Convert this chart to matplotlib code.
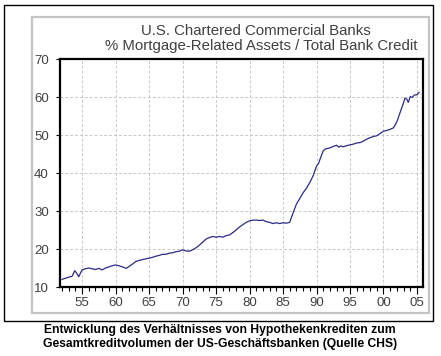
import matplotlib
matplotlib.use('Agg')
import matplotlib.pyplot as plt
from matplotlib.patches import Rectangle
from matplotlib.ticker import MultipleLocator, FixedLocator

# values (year, percent)
years = [1952.0, 1952.5, 1953.0, 1953.5, 1953.9, 1954.2, 1954.5, 1954.8, 1955.0, 1955.5,
         1956.0, 1956.5, 1957.0, 1957.5, 1958.0, 1958.5, 1959.0, 1959.5, 1960.0, 1960.5,
         1961.0, 1961.6, 1962.0, 1962.5, 1963.0, 1963.5, 1964.0, 1964.5, 1965.0, 1965.5,
         1966.0, 1966.5, 1967.0, 1967.5, 1968.0, 1968.5, 1969.0, 1969.5, 1970.0, 1970.5,
         1971.0, 1971.5, 1972.0, 1972.5, 1973.0, 1973.5, 1974.0, 1974.5, 1975.0, 1975.5,
         1976.0, 1976.5, 1977.0, 1977.5, 1978.0, 1978.5, 1979.0, 1979.5, 1980.0, 1980.5,
         1981.0, 1981.5, 1982.0, 1982.5, 1983.0, 1983.5, 1984.0, 1984.5, 1985.0, 1985.5,
         1986.0, 1986.5, 1987.0, 1987.5, 1988.0, 1988.5, 1989.0, 1989.5, 1990.0, 1990.3,
         1990.6, 1991.0, 1991.3, 1991.7, 1992.0, 1992.5, 1993.0, 1993.3, 1993.6, 1994.0,
         1994.5, 1995.0, 1995.5, 1996.0, 1996.5, 1997.0, 1997.5, 1998.0, 1998.5, 1999.0,
         1999.5, 2000.0, 2000.5, 2001.0, 2001.5, 2002.0, 2002.5, 2003.0, 2003.2, 2003.5,
         2003.7, 2004.0, 2004.3, 2004.6, 2005.0, 2005.3]
share = [12.0, 12.3, 12.6, 12.8, 14.3, 13.6, 12.7, 13.8, 14.5, 14.8,
         15.0, 14.8, 14.6, 14.9, 14.5, 15.0, 15.3, 15.6, 15.8, 15.6,
         15.3, 14.9, 15.4, 16.0, 16.7, 17.0, 17.2, 17.4, 17.6, 17.8,
         18.1, 18.3, 18.6, 18.6, 18.9, 19.0, 19.3, 19.4, 19.8, 19.5,
         19.4, 19.8, 20.3, 21.0, 21.8, 22.6, 23.0, 23.3, 23.1, 23.3,
         23.1, 23.5, 23.7, 24.3, 25.0, 25.8, 26.4, 27.0, 27.4, 27.6,
         27.6, 27.5, 27.6, 27.2, 27.0, 26.7, 26.9, 26.7, 26.9, 26.8,
         27.0, 29.5, 31.8, 33.3, 34.8, 36.0, 37.5, 39.3, 41.8, 42.5,
         44.0, 45.8, 46.3, 46.5, 46.6, 47.0, 47.3, 46.8, 47.1, 46.9,
         47.2, 47.4, 47.6, 47.9, 48.0, 48.4, 48.9, 49.3, 49.6, 49.8,
         50.4, 51.0, 51.2, 51.5, 51.9, 53.5, 56.0, 58.5, 59.7, 59.4,
         58.6, 60.1, 59.9, 60.5, 60.6, 61.2]

xtick_years = [1955, 1960, 1965, 1970, 1975, 1980, 1985, 1990, 1995, 2000, 2005]
xtick_labels = ['55', '60', '65', '70', '75', '80', '85', '90', '95', '00', '05']
ytick_values = [10, 20, 30, 40, 50, 60, 70]

W, H = 441, 356
fig = plt.figure(figsize=(W / 100, H / 100), dpi=100)
fig.patch.set_facecolor('white')

def px(x0, y0, x1, y1):
    # pixel box (top-left origin) -> figure fraction rect
    return (x0 / W, 1 - y1 / H, (x1 - x0) / W, (y1 - y0) / H)

# outer black frame and inner grey panel
l, b, w, h = px(4, 5, 433, 321)
fig.patches.append(Rectangle((l, b), w, h, transform=fig.transFigure,
                             fill=False, edgecolor='black', linewidth=1.0))
l, b, w, h = px(32, 17, 429, 313)
fig.patches.append(Rectangle((l, b), w, h, transform=fig.transFigure,
                             fill=False, edgecolor='#c4c4c4', linewidth=1.6))

ax = fig.add_axes(px(60, 59, 423, 287))
ax.plot(years, share, color='#2b2b86', linewidth=0.9)

ax.set_xlim(1951.7, 2005.9)
ax.set_ylim(10, 70)
ax.xaxis.set_major_locator(FixedLocator(xtick_years))
ax.set_xticklabels(xtick_labels)
ax.xaxis.set_minor_locator(MultipleLocator(1))
ax.set_yticks(ytick_values)

ax.grid(True, which='major', color='#c8c8c8', linestyle=(0, (3, 2)), linewidth=0.7)
for s in ax.spines.values():
    s.set_linewidth(1.6)
    s.set_color('black')

ax.tick_params(axis='x', which='major', direction='out', length=5, width=0.8,
               pad=2, labelcolor='#404040', labelsize=9.5)
ax.tick_params(axis='x', which='minor', direction='out', length=3, width=0.8)
ax.tick_params(axis='y', direction='out', length=3, width=0.8, pad=5,
               labelcolor='#404040', labelsize=9.5)
for t in ax.get_xticklabels() + ax.get_yticklabels():
    t.set_family('Liberation Sans')

fig.text(256 / W, 1 - 31 / H, 'U.S. Chartered Commercial Banks',
         ha='center', va='center', fontsize=10.8, color='#404040', family='Liberation Sans')
fig.text(261 / W, 1 - 46 / H, '% Mortgage-Related Assets / Total Bank Credit',
         ha='center', va='center', fontsize=10.8, color='#404040', family='Liberation Sans')

fig.text(220 / W, 1 - 330 / H, 'Entwicklung des Verhältnisses von Hypothekenkrediten zum',
         ha='center', va='center', fontsize=8.7, fontweight='bold', family='Liberation Sans')
fig.text(220 / W, 1 - 344 / H, 'Gesamtkreditvolumen der US-Geschäftsbanken (Quelle CHS)',
         ha='center', va='center', fontsize=8.7, fontweight='bold', family='Liberation Sans')

fig.savefig('out.png', dpi=100)
